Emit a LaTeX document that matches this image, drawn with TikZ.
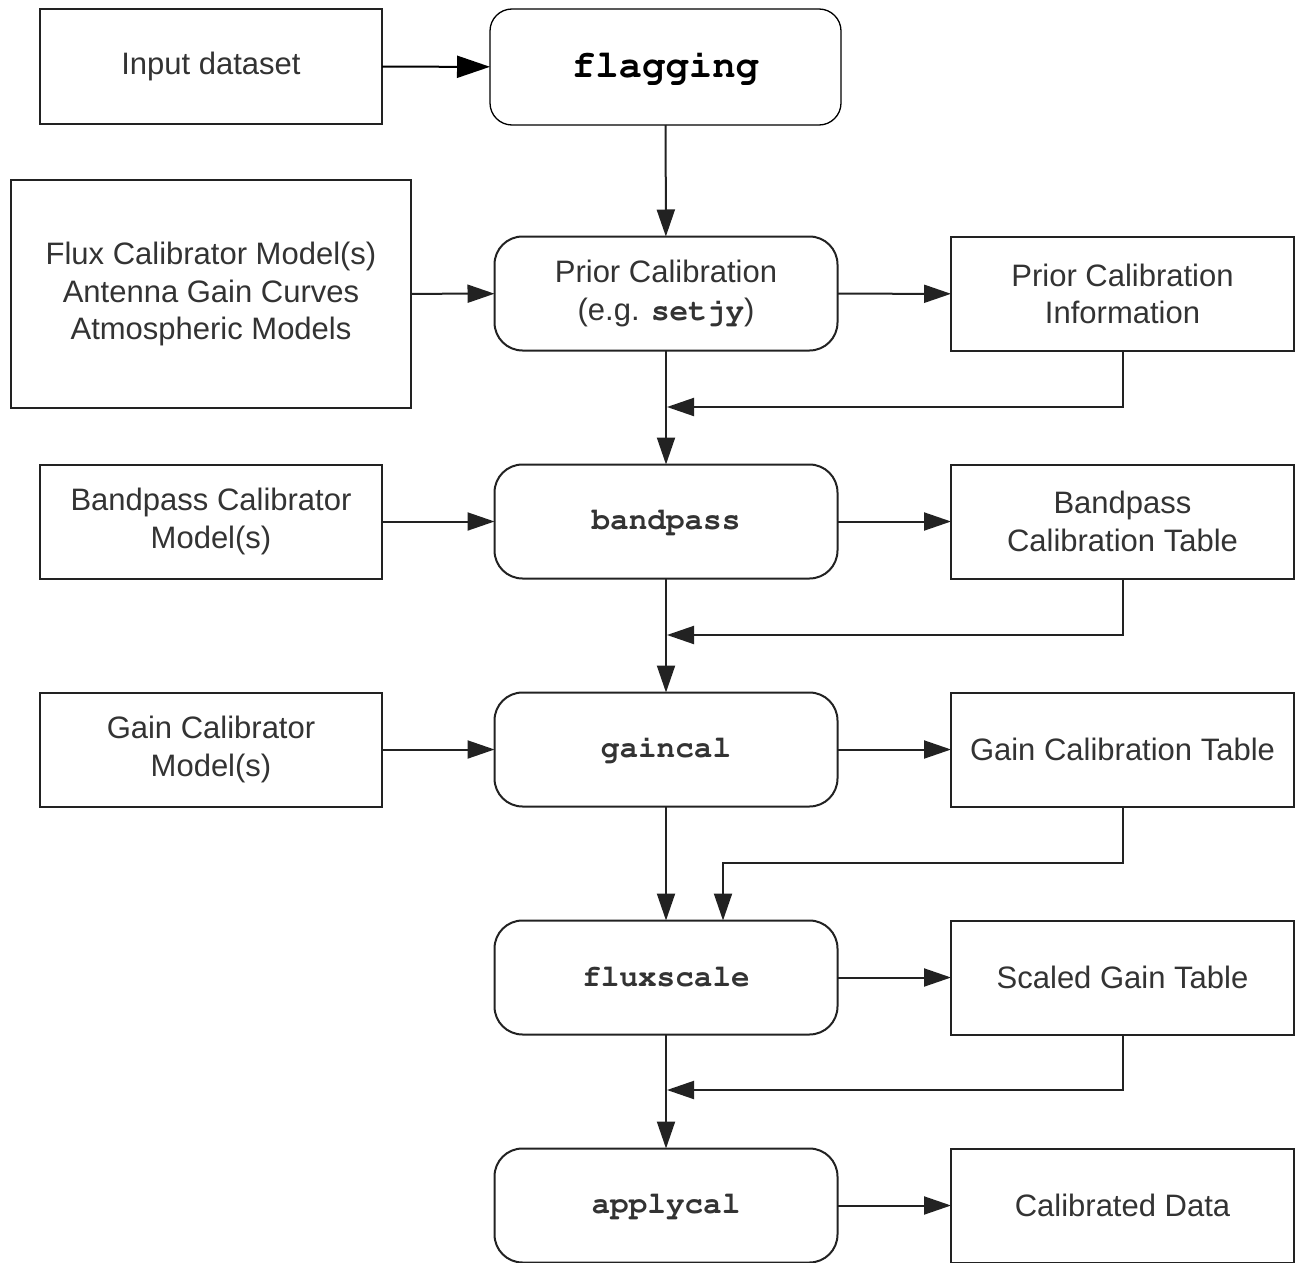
\documentclass[tikz,border=0pt]{standalone}
\usepackage[T1]{fontenc}
\usepackage{fontspec}
\setmainfont{Liberation Sans}
\usetikzlibrary{arrows.meta}
\newcommand\codefont{\fontencoding{T1}\fontfamily{pcr}\fontseries{b}\selectfont}
\definecolor{txt}{HTML}{333333}
\definecolor{ln}{HTML}{222222}
\tikzset{
  base/.style={draw=ln, line width=2pt, inner sep=0pt, outer sep=0pt, align=center,
    text=txt, font=\fontsize{31}{37.5}\selectfont},
  sqbox/.style={base, minimum width=342pt, minimum height=114pt},
  rbox/.style={base, rounded corners=28pt, minimum width=343pt, minimum height=114pt,
    font=\fontsize{31}{37.5}\selectfont\codefont},
  arr/.style={draw=ln, line width=2pt, -{Triangle[length=27pt,width=18pt]}},
  bigarr/.style={draw=black, line width=2pt, -{Triangle[length=33pt,width=22pt]}}
}
\begin{document}
\begin{tikzpicture}[x=1pt,y=-1pt]
\useasboundingbox (0,0) rectangle (1299,1263);
\fill[white] (0,0) rectangle (1299,1263);
% left column
\node[sqbox] (in) at (211,66.5) {Input dataset};
\node[sqbox, minimum width=400pt, minimum height=228pt] (flux) at (211,294)
  {Flux Calibrator Model(s)\\Antenna Gain Curves\\Atmospheric Models};
\node[sqbox] (bpm) at (211,521.5) {Bandpass Calibrator\\Model(s)};
\node[sqbox] (gm) at (211,749.5) {Gain Calibrator\\Model(s)};
% centre column
\node[base, draw=black, line width=1.3pt, rounded corners=22pt, minimum width=351pt,
  minimum height=116pt, text=black, font=\fontsize{39}{45}\codefont] (flag) at (665.5,67) {flagging};
\node[rbox, font=\fontsize{31}{37.5}\selectfont] (prior) at (666,293.5)
  {Prior Calibration\\(e.g. {\codefont setjy})};
\node[rbox] (bp) at (666,521.5) {bandpass};
\node[rbox] (gc) at (666,749.5) {gaincal};
\node[rbox] (fs) at (666,977.5) {fluxscale};
\node[rbox] (ac) at (666,1205.5) {applycal};
% right column
\node[sqbox, minimum width=343pt] (pinfo) at (1122.5,294) {Prior Calibration\\Information};
\node[sqbox, minimum width=343pt] (bpt) at (1122.5,521.5) {Bandpass\\Calibration Table};
\node[sqbox, minimum width=343pt] (gct) at (1122.5,749.5) {Gain Calibration Table};
\node[sqbox, minimum width=343pt] (sgt) at (1122.5,977.5) {Scaled Gain Table};
\node[sqbox, minimum width=343pt] (cd) at (1122.5,1205.5) {Calibrated Data};
% horizontal arrows
\draw[bigarr] (in) -- (flag);
\draw[arr] (flux) -- (prior);
\draw[arr] (bpm) -- (bp);
\draw[arr] (gm) -- (gc);
\draw[arr] (prior) -- (pinfo);
\draw[arr] (bp) -- (bpt);
\draw[arr] (gc) -- (gct);
\draw[arr] (fs) -- (sgt);
\draw[arr] (ac) -- (cd);
% vertical chain
\draw[arr] (flag) -- (prior);
\draw[arr] (prior) -- (bp);
\draw[arr] (bp) -- (gc);
\draw[arr] (gc) -- (fs);
\draw[arr] (fs) -- (ac);
% feedback lines
\coordinate (f1) at (667,407);
\coordinate (f2) at (667,635);
\coordinate (f3) at (667,1090);
\coordinate (g1) at (723,863);
\draw[arr] (pinfo.south) |- (f1);
\draw[arr] (bpt.south) |- (f2);
\draw[arr] (sgt.south) |- (f3);
\draw[arr] (gct.south) |- (g1) -- (g1 |- fs.north);
\end{tikzpicture}
\end{document}
